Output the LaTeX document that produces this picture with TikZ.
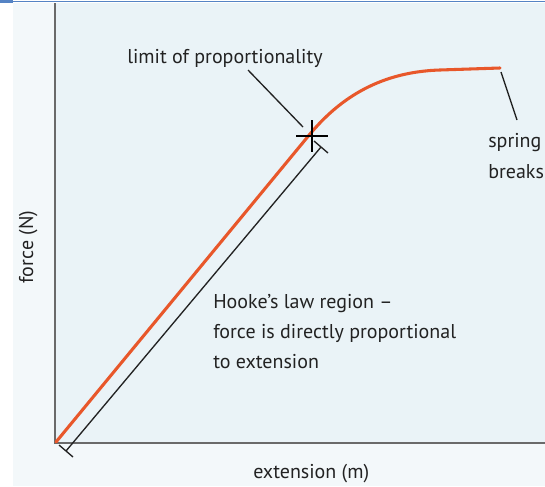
\documentclass[tikz,border=0pt]{standalone}
\usepackage{fontspec}
\setmainfont{PT Sans}
\definecolor{bgout}{HTML}{F3F8FA}
\definecolor{bgin}{HTML}{EAF3F7}
\definecolor{curve}{HTML}{E8572A}
\definecolor{ink}{HTML}{222222}
\definecolor{axis}{HTML}{6A6A6A}
\definecolor{topblue}{HTML}{5583C4}
\begin{document}
\begin{tikzpicture}[x=0.75pt,y=-0.75pt,
  lbl/.style={text=ink,font=\fontsize{15}{22.5}\selectfont,inner sep=0pt},
  leader/.style={draw=ink,line width=1pt},
  axisline/.style={draw=axis,line width=1.6pt}]
\useasboundingbox (0,0) rectangle (545,486);
% backgrounds
\fill[white] (0,0) rectangle (545,486);
\fill[bgout] (13,3) rectangle (545,486);
\fill[bgin] (55,3) rectangle (545,443);
\draw[topblue,line width=1.1pt] (0,1.5) -- (545,1.5);
\fill[topblue] (0,0) rectangle (13,3);
% axes
\coordinate (ytop) at (55,3);
\coordinate (orig) at (55,443);
\coordinate (xend) at (545,443);
\draw[axisline] (ytop) -- (orig) -- (xend);
% curve
\coordinate (c0) at (56,442);
\coordinate (c1) at (310,134);
\coordinate (c2) at (440,70);
\coordinate (c3) at (500,68);
\draw[curve,line width=2.3pt,line cap=round] (c0) -- (c1) .. controls (336,103) and (375,72) .. (c2) -- (c3);
% cross
\coordinate (lp) at (312,136);
\draw[black,line width=2pt] (296,136) -- (328,136) (312,120) -- (312,152);
% Hooke's law bracket
\coordinate (bA) at (66,451);
\coordinate (bB) at (321,147);
\draw[leader] (bA) -- (bB);
\draw[leader] (59,445) -- (73,457);
\draw[leader] (314,141) -- (328,153);
% labels
\node[lbl,anchor=base west] (lim) at (127,63) {limit of proportionality};
\coordinate (limA) at (248,70);
\coordinate (limB) at (303,127);
\draw[leader] (limA) -- (limB);
\node[lbl,anchor=base west] (spr1) at (488,147) {spring};
\node[lbl,anchor=base west] (spr2) at (488,178) {breaks};
\coordinate (sbA) at (501,72);
\coordinate (sbB) at (517,120);
\draw[leader] (sbA) -- (sbB);
\node[lbl,anchor=base west] (hk1) at (213,308) {Hooke’s law region –};
\node[lbl,anchor=base west] (hk2) at (213,338) {force is directly proportional};
\node[lbl,anchor=base west] (hk3) at (213,368) {to extension};
\node[lbl,anchor=base west] (xl) at (253,478) {extension (m)};
\node[lbl,rotate=90,anchor=base] (yl) at (33,247) {force (N)};
\end{tikzpicture}
\end{document}
